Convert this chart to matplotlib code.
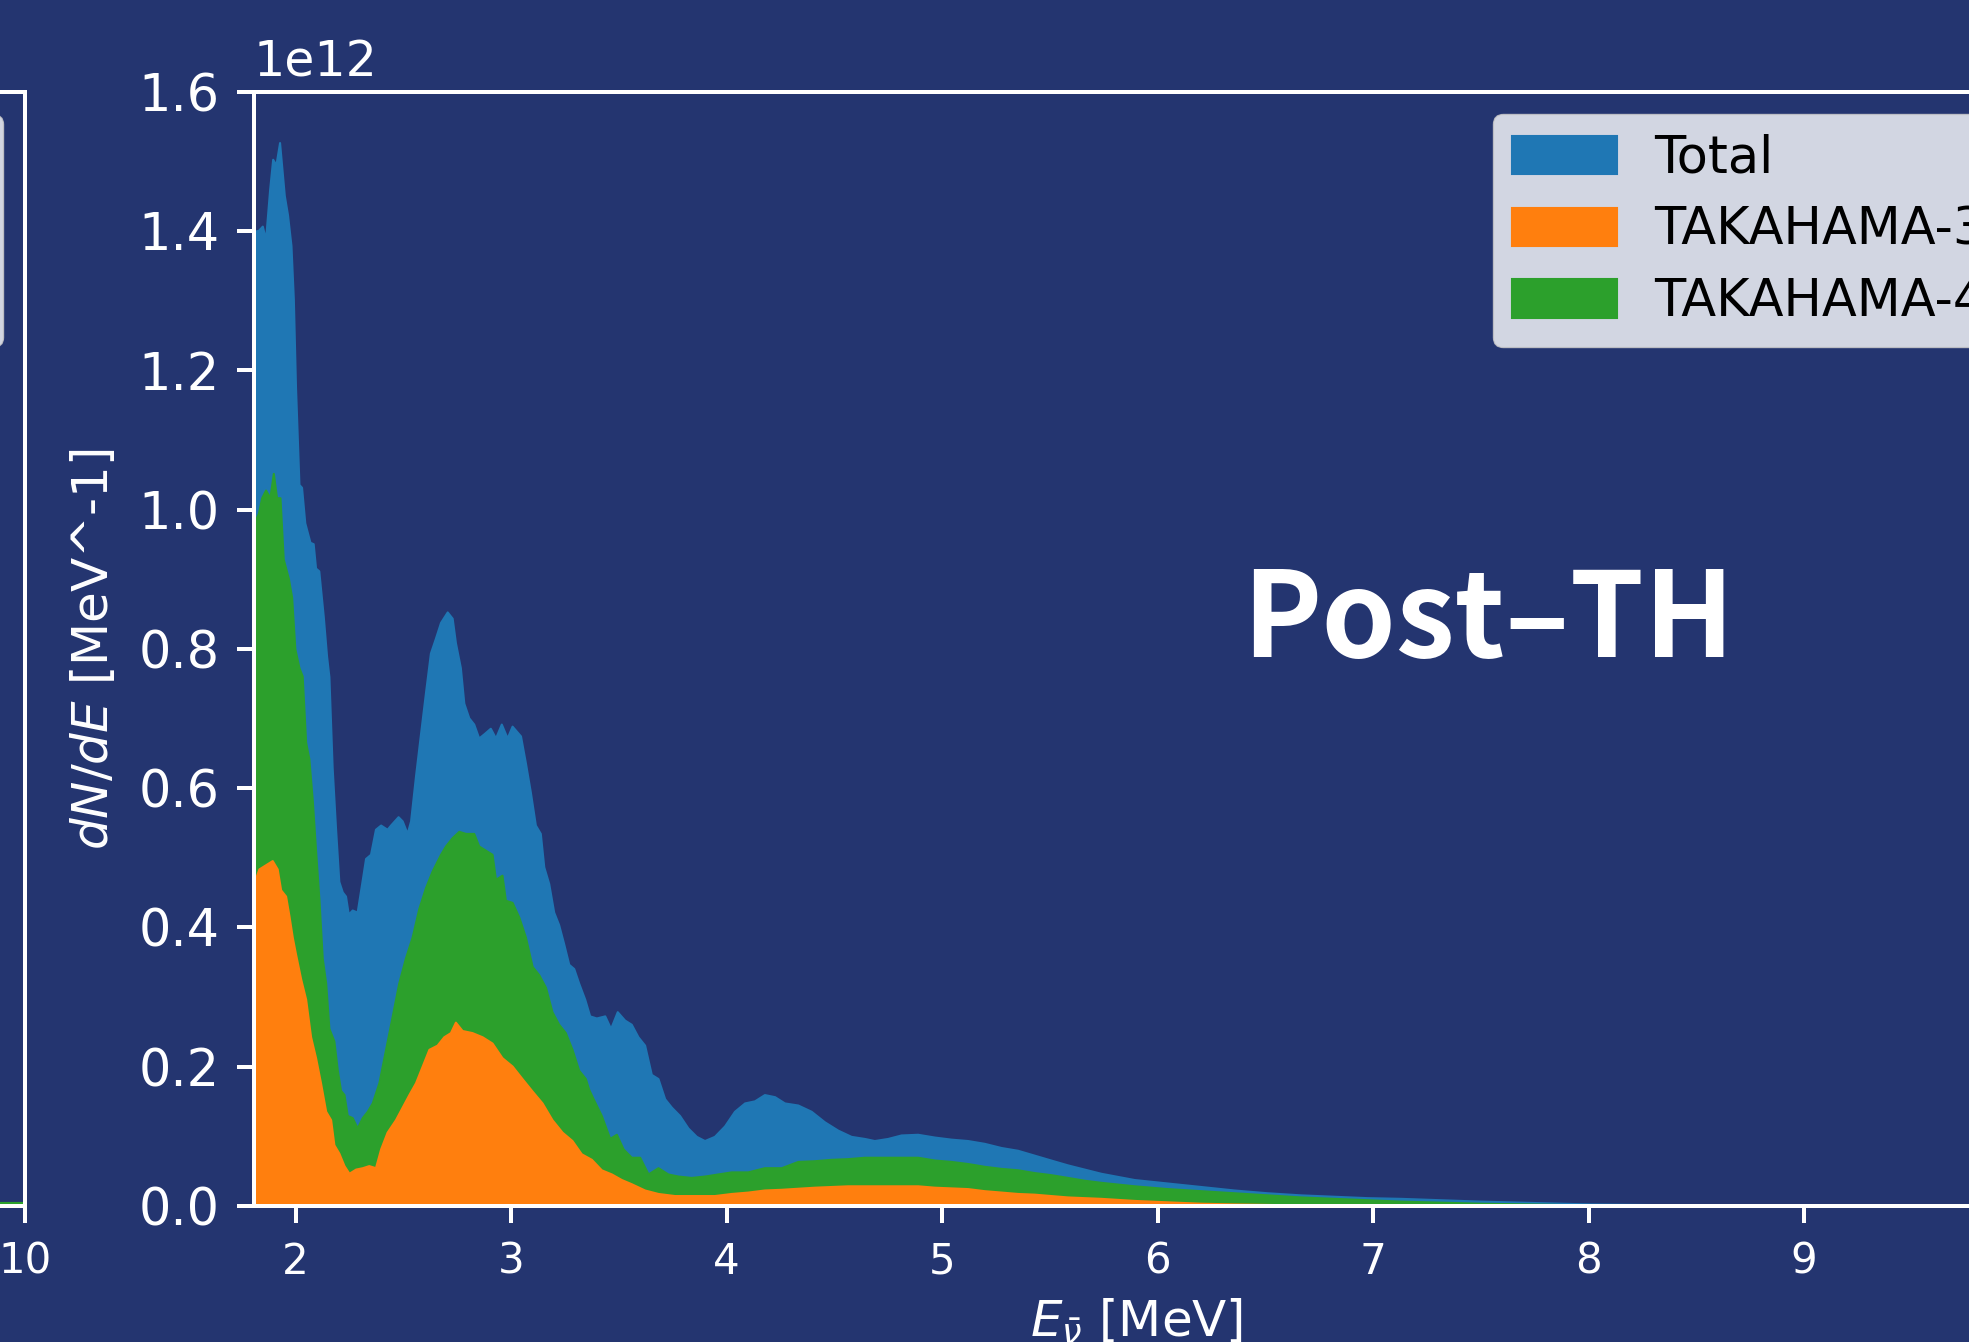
import numpy as np
import matplotlib
matplotlib.use('Agg')
import matplotlib.pyplot as plt

# ---------------- data (values in units of 1e12 MeV^-1) ----------------
E_total = [1.806, 1.814, 1.828, 1.846, 1.861, 1.880, 1.894, 1.909, 1.926, 1.948, 1.963, 1.979,
           1.990, 2.000, 2.016, 2.028, 2.043, 2.067, 2.082, 2.093, 2.108, 2.129, 2.144, 2.155,
           2.170, 2.186, 2.201, 2.217, 2.232, 2.245, 2.263, 2.286, 2.310, 2.325, 2.348, 2.371,
           2.395, 2.425, 2.441, 2.476, 2.495, 2.518, 2.534, 2.557, 2.580, 2.603, 2.626, 2.649,
           2.673, 2.704, 2.727, 2.742, 2.765, 2.781, 2.804, 2.827, 2.850, 2.874, 2.904, 2.928,
           2.955, 2.982, 3.005, 3.044, 3.067, 3.090, 3.113, 3.136, 3.152, 3.175, 3.198, 3.221,
           3.244, 3.268, 3.291, 3.314, 3.342, 3.365, 3.396, 3.435, 3.462, 3.493, 3.527, 3.558,
           3.589, 3.620, 3.651, 3.682, 3.713, 3.744, 3.782, 3.821, 3.860, 3.898, 3.944, 3.991,
           4.037, 4.084, 4.130, 4.176, 4.223, 4.269, 4.331, 4.393, 4.454, 4.516, 4.578, 4.640,
           4.686, 4.748, 4.810, 4.887, 4.965, 5.042, 5.119, 5.196, 5.274, 5.351, 5.428, 5.505,
           5.583, 5.660, 5.737, 5.892, 6.046, 6.201, 6.355, 6.510, 6.664, 6.819, 6.973, 7.128,
           7.500, 8.000, 8.500, 9.000, 9.500, 10.000]
total = [1.400, 1.400, 1.401, 1.407, 1.388, 1.460, 1.503, 1.495, 1.527, 1.451, 1.423, 1.379,
         1.302, 1.176, 1.036, 1.032, 0.981, 0.953, 0.951, 0.916, 0.912, 0.846, 0.790, 0.760,
         0.630, 0.541, 0.466, 0.451, 0.445, 0.419, 0.425, 0.422, 0.469, 0.499, 0.505, 0.541,
         0.547, 0.541, 0.547, 0.559, 0.553, 0.535, 0.553, 0.618, 0.678, 0.737, 0.794, 0.815,
         0.838, 0.853, 0.844, 0.809, 0.773, 0.722, 0.701, 0.692, 0.672, 0.678, 0.686, 0.672,
         0.692, 0.672, 0.689, 0.675, 0.636, 0.594, 0.547, 0.535, 0.487, 0.463, 0.422, 0.404,
         0.377, 0.347, 0.341, 0.320, 0.297, 0.273, 0.270, 0.273, 0.255, 0.279, 0.267, 0.261,
         0.243, 0.231, 0.189, 0.183, 0.154, 0.142, 0.130, 0.112, 0.100, 0.094, 0.100, 0.115,
         0.136, 0.148, 0.151, 0.160, 0.157, 0.148, 0.145, 0.136, 0.121, 0.109, 0.100, 0.097,
         0.094, 0.097, 0.102, 0.103, 0.099, 0.096, 0.094, 0.090, 0.084, 0.080, 0.073, 0.066,
         0.059, 0.053, 0.047, 0.038, 0.033, 0.028, 0.023, 0.019, 0.016, 0.014, 0.012, 0.011,
         0.007, 0.003, 0.0015, 0.0007, 0.0003, 0.0001]

# top of the stacked TAKAHAMA-4 band (TAKAHAMA-3 + TAKAHAMA-4)
E_t4_top = [1.806, 1.814, 1.828, 1.843, 1.861, 1.881, 1.897, 1.912, 1.928, 1.943, 1.967, 1.982,
            1.997, 2.016, 2.031, 2.047, 2.062, 2.078, 2.093, 2.109, 2.124, 2.140, 2.155, 2.178,
            2.194, 2.209, 2.225, 2.240, 2.263, 2.286, 2.310, 2.333, 2.356, 2.387, 2.418, 2.449,
            2.479, 2.510, 2.541, 2.572, 2.603, 2.634, 2.673, 2.696, 2.727, 2.758, 2.789, 2.827,
            2.850, 2.881, 2.912, 2.928, 2.958, 2.974, 3.005, 3.036, 3.067, 3.098, 3.129, 3.160,
            3.190, 3.221, 3.252, 3.283, 3.314, 3.345, 3.360, 3.381, 3.419, 3.458, 3.489, 3.520,
            3.558, 3.597, 3.636, 3.682, 3.728, 3.775, 3.836, 3.898, 3.960, 4.022, 4.099, 4.176,
            4.254, 4.331, 4.408, 4.485, 4.563, 4.640, 4.717, 4.795, 4.887, 4.965, 5.042, 5.119,
            5.196, 5.274, 5.351, 5.428, 5.505, 5.583, 5.660, 5.737, 5.892, 6.046, 6.201, 6.355,
            6.510, 6.664, 6.819, 6.973, 7.128, 7.500, 8.000, 9.000, 10.000]
t4_top = [0.980, 0.985, 0.995, 1.017, 1.028, 1.017, 1.052, 1.017, 1.017, 0.929, 0.901, 0.874,
          0.800, 0.773, 0.761, 0.666, 0.642, 0.582, 0.511, 0.439, 0.356, 0.320, 0.255, 0.237,
          0.195, 0.166, 0.160, 0.130, 0.127, 0.112, 0.127, 0.136, 0.148, 0.177, 0.225, 0.273,
          0.320, 0.356, 0.386, 0.427, 0.457, 0.481, 0.505, 0.517, 0.529, 0.538, 0.535, 0.535,
          0.517, 0.511, 0.505, 0.469, 0.475, 0.439, 0.436, 0.415, 0.386, 0.344, 0.332, 0.314,
          0.279, 0.261, 0.249, 0.225, 0.195, 0.183, 0.168, 0.154, 0.130, 0.097, 0.103, 0.082,
          0.070, 0.070, 0.046, 0.055, 0.046, 0.043, 0.041, 0.043, 0.046, 0.049, 0.049, 0.055,
          0.055, 0.064, 0.065, 0.067, 0.068, 0.070, 0.070, 0.070, 0.070, 0.066, 0.064, 0.061,
          0.057, 0.054, 0.052, 0.048, 0.045, 0.041, 0.037, 0.034, 0.029, 0.025, 0.022, 0.019,
          0.016, 0.013, 0.011, 0.009, 0.007, 0.004, 0.0015, 0.0004, 0.0001]

E_t3 = [1.806, 1.814, 1.830, 1.861, 1.892, 1.915, 1.931, 1.954, 1.970, 1.985, 2.000, 2.024,
        2.047, 2.070, 2.093, 2.116, 2.140, 2.163, 2.178, 2.201, 2.225, 2.248, 2.279, 2.310,
        2.340, 2.371, 2.395, 2.425, 2.464, 2.495, 2.526, 2.557, 2.588, 2.619, 2.657, 2.688,
        2.719, 2.742, 2.773, 2.819, 2.866, 2.912, 2.958, 3.005, 3.051, 3.098, 3.144, 3.190,
        3.237, 3.283, 3.326, 3.373, 3.419, 3.466, 3.512, 3.558, 3.620, 3.682, 3.759, 3.836,
        3.944, 4.022, 4.099, 4.176, 4.254, 4.408, 4.563, 4.717, 4.810, 4.887, 4.965, 5.042,
        5.119, 5.196, 5.274, 5.351, 5.428, 5.505, 5.583, 5.737, 5.892, 6.046, 6.201, 6.355,
        6.664, 7.128, 8.000, 10.000]
t3 = [0.465, 0.470, 0.484, 0.490, 0.496, 0.484, 0.454, 0.445, 0.416, 0.386, 0.362, 0.326,
      0.297, 0.243, 0.213, 0.177, 0.136, 0.124, 0.088, 0.076, 0.058, 0.047, 0.053, 0.055,
      0.058, 0.055, 0.082, 0.106, 0.124, 0.142, 0.160, 0.177, 0.201, 0.225, 0.231, 0.243,
      0.249, 0.264, 0.252, 0.249, 0.243, 0.234, 0.213, 0.201, 0.183, 0.165, 0.148, 0.124,
      0.106, 0.094, 0.075, 0.067, 0.052, 0.046, 0.038, 0.032, 0.023, 0.018, 0.015, 0.015,
      0.015, 0.018, 0.020, 0.023, 0.024, 0.027, 0.029, 0.029, 0.029, 0.029, 0.027, 0.026,
      0.025, 0.022, 0.020, 0.018, 0.017, 0.015, 0.013, 0.011, 0.008, 0.006, 0.004, 0.003,
      0.0015, 0.0005, 0.0001, 0.0]

# left (neighbouring) panel: only its high-energy tail is visible
E_left = [8.0, 9.0, 10.0]
left_t4 = [0.004, 0.004, 0.004]

labels = ['Total', 'TAKAHAMA-3', 'TAKAHAMA-4']
panel_label = 'Post\u2013TH'
SCALE = 1e12

# ---------------- style ----------------
BG = '#243570'
DPI = 100
W, H = 1969, 1342
C_TOT, C_T3, C_T4 = '#1f77b4', '#ff7f0e', '#2ca02c'


def pt(px):
    return px * 72.0 / DPI


plt.rcParams['font.family'] = ['DejaVu Sans']
plt.rcParams['mathtext.fontset'] = 'dejavusans'

fig = plt.figure(figsize=(W / DPI, H / DPI), dpi=DPI, facecolor=BG)

x0, x1 = 253.7, 2019.5
y_top, y_bot = 91.7, 1206.0
ax_w = x1 - x0
ax = fig.add_axes([x0 / W, (H - y_bot) / H, ax_w / W, (y_bot - y_top) / H])
axl = fig.add_axes([(25.0 - ax_w) / W, (H - y_bot) / H, ax_w / W, (y_bot - y_top) / H])


def style(a):
    a.set_facecolor(BG)
    for s in a.spines.values():
        s.set_color('white')
        s.set_linewidth(pt(4))
    a.tick_params(axis='both', colors='white', width=pt(4), length=pt(17))
    a.tick_params(axis='y', labelsize=pt(51), pad=pt(17))
    a.tick_params(axis='x', labelsize=pt(42), pad=pt(18))
    a.yaxis.OFFSETTEXTPAD = 11
    a.yaxis.get_offset_text().set_fontsize(pt(49))
    a.yaxis.get_offset_text().set_color('white')
    a.set_xlim(1.806, 10)
    a.set_ylim(0, 1.6 * SCALE)
    a.set_yticks(np.arange(0, 1.61, 0.2) * SCALE)


for a in (ax, axl):
    style(a)

tot = np.array(total) * SCALE
g = np.array(t4_top) * SCALE
o = np.array(t3) * SCALE

h_tot = ax.fill_between(E_total, 0, tot, color=C_TOT, lw=1.5, edgecolor=C_TOT)
h_t4 = ax.fill_between(E_t4_top, 0, g, color=C_T4, lw=1.5, edgecolor=C_T4)
h_t3 = ax.fill_between(E_t3, 0, o, color=C_T3, lw=1.5, edgecolor=C_T3)

LEG_PX = 51
leg_kw = dict(fontsize=pt(LEG_PX), handlelength=2.06, handleheight=0.78,
              labelspacing=0.43, borderpad=0.38, handletextpad=0.71, borderaxespad=0.44)
frame_left_px = 1493.0
anchor_x = (frame_left_px - 0.44 * LEG_PX - x0) / ax_w
ax.legend([h_tot, h_t3, h_t4], labels, loc='upper left', bbox_to_anchor=(anchor_x, 1), **leg_kw)

axl.plot(E_left, np.array(left_t4) * SCALE, color=C_T4, lw=pt(2.2))
lt = axl.fill_between([], [], color=C_TOT)
l3 = axl.fill_between([], [], color=C_T3)
l4 = axl.fill_between([], [], color=C_T4)
axl.legend([lt, l3, l4], labels, loc='upper right', **leg_kw)

ax.set_ylabel(r'$dN/dE$ [MeV^-1]', color='white', fontsize=pt(50), labelpad=pt(20))
ax.set_xlabel(r'$E_{\bar{\nu}}$ [MeV]', color='white', fontsize=pt(50), labelpad=pt(14))

ax.text(0.699, 0.4924, panel_label, transform=ax.transAxes, ha='center', va='baseline',
        fontsize=pt(119), fontweight='bold', color='white',
        family=['Noto Sans CJK JP', 'DejaVu Sans'])

fig.savefig('out.png', dpi=DPI, facecolor=BG)
